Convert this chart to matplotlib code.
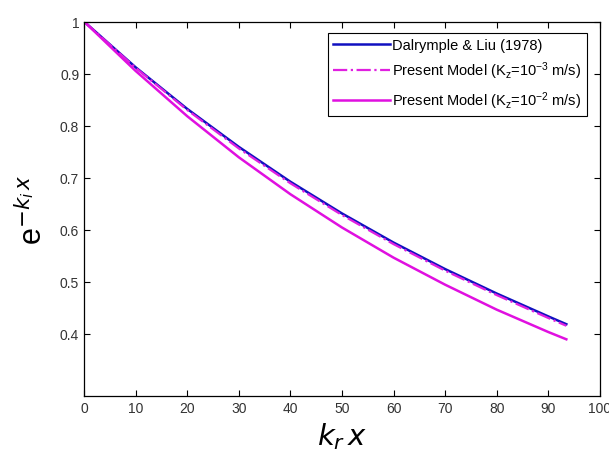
import matplotlib
matplotlib.use("Agg")
import matplotlib.pyplot as plt

plt.rcParams['font.family'] = ['Liberation Sans', 'DejaVu Sans']
plt.rcParams['mathtext.default'] = 'regular'

# damping curves read at k_r x = 0, 10, ..., 90 and the end point
kx = [0, 10, 20, 30, 40, 50, 60, 70, 80, 90, 93.5]
dalrymple = [1.0, 0.912, 0.832, 0.759, 0.692, 0.631, 0.575, 0.524, 0.477, 0.433, 0.418]
model_k3 = [1.0, 0.911, 0.830, 0.756, 0.689, 0.628, 0.572, 0.521, 0.474, 0.430, 0.415]
model_k2 = [1.0, 0.905, 0.818, 0.739, 0.668, 0.604, 0.546, 0.494, 0.446, 0.403, 0.389]

labels = ['Dalrymple & Liu (1978)',
          'Present Model (K$_z$=10$^{-3}$ m/s)',
          'Present Model (K$_z$=10$^{-2}$ m/s)']

fig = plt.figure(figsize=(6.09, 4.6), dpi=100)
ax = fig.add_axes([0.138, 0.137, 0.847, 0.814])

ax.plot(kx, dalrymple, color='#1010c0', lw=1.8, label=labels[0])
ax.plot(kx, model_k3, color='#e020e0', lw=1.6, ls='-.', label=labels[1])
ax.plot(kx, model_k2, color='#e010e0', lw=1.8, label=labels[2])

ax.set_xlim(0, 100)
ax.set_ylim(0.28, 1.0)
ax.set_xticks(range(0, 101, 10))
ax.set_yticks([0.4, 0.5, 0.6, 0.7, 0.8, 0.9, 1.0])
ax.set_yticklabels(['0.4', '0.5', '0.6', '0.7', '0.8', '0.9', '1'])
ax.tick_params(direction='in', top=True, right=True, length=4,
               labelsize=10, labelcolor='#333333', width=0.8)
for s in ax.spines.values():
    s.set_linewidth(0.9)

ax.set_xlabel('$\\mathit{k_r\\,x}$', fontsize=21, labelpad=4)
ax.set_ylabel('$e^{\\mathit{-k_i\\,x}}$', fontsize=22, labelpad=8)

leg = ax.legend(loc='upper right', fontsize=10.5, fancybox=False,
                edgecolor='black', framealpha=1, handlelength=3.9,
                handletextpad=0.15, borderpad=0.35, labelspacing=0.55,
                borderaxespad=0.2, bbox_to_anchor=(0.98, 0.978))
leg.get_frame().set_linewidth(0.8)

fig.savefig('out.png', dpi=100)
